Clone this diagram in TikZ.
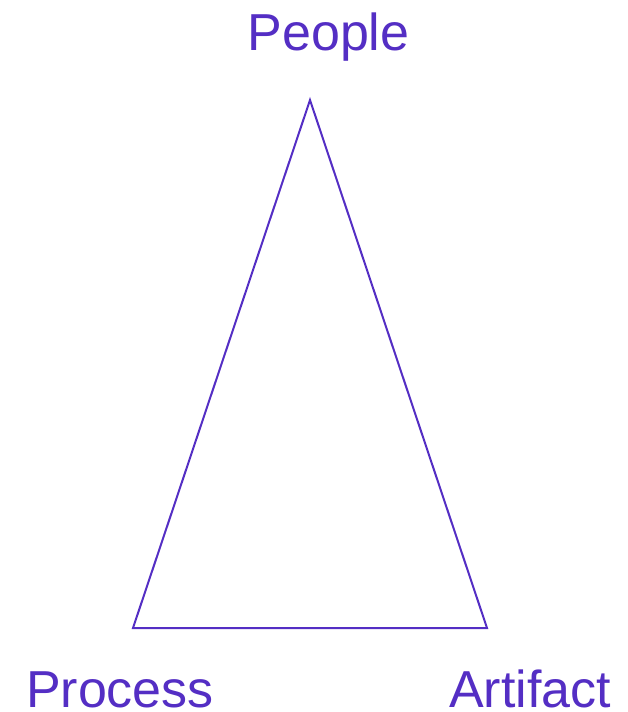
\documentclass[tikz,border=0pt]{standalone}
\usepackage{fontspec}
\setmainfont{Liberation Sans}
\usepackage{tikz}
\definecolor{violet}{RGB}{84,46,196}

\begin{document}
\begin{tikzpicture}[x=1pt,y=-1pt,
    corner/.style={anchor=base,text=violet,font=\fontsize{52}{60}\selectfont,inner sep=0pt},
    edge/.style={draw=violet,line width=2pt,line join=miter}]
\useasboundingbox (0,0) rectangle (628,712);
\coordinate (top) at (310,100);
\coordinate (left) at (133,628);
\coordinate (right) at (487,628);
\draw[edge] (top) -- (right) -- (left) -- cycle;

\node[corner] (people) at (328.5,50) {People};
\node[corner] (process) at (120,707) {Process};
\node[corner] (artifact) at (530,707) {Artifact};
\end{tikzpicture}
\end{document}
